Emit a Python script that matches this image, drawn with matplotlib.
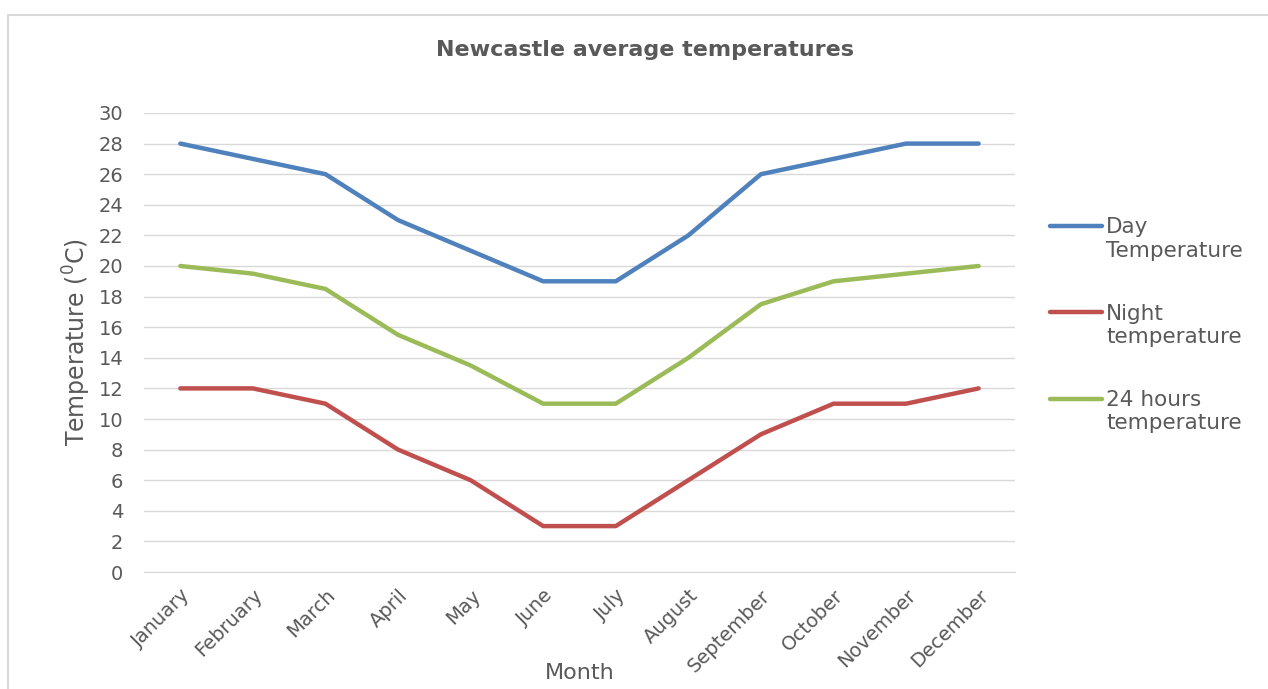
import matplotlib
matplotlib.use('Agg')
import numpy as np
import matplotlib.pyplot as plt
from matplotlib.patches import Rectangle
from matplotlib.legend_handler import HandlerLine2D

plt.rcParams['font.family'] = 'DejaVu Sans'

# data
months = ['January', 'February', 'March', 'April', 'May', 'June', 'July',
          'August', 'September', 'October', 'November', 'December']
day_temp = [28, 27, 26, 23, 21, 19, 19, 22, 26, 27, 28, 28]
night_temp = [12, 12, 11, 8, 6, 3, 3, 6, 9, 11, 11, 12]
avg_temp = [20, 19.5, 18.5, 15.5, 13.5, 11, 11, 14, 17.5, 19, 19.5, 20]
series_names = ['Day\nTemperature', 'Night\ntemperature', '24 hours\ntemperature']
series_colors = ['#4F81BD', '#C0504D', '#9BBB59']

grey = '#595959'


# excel puts the legend line next to the first text line, not the middle
class TopLineHandler(HandlerLine2D):
    def create_artists(self, legend, orig_handle, xdescent, ydescent,
                       width, height, fontsize, trans):
        arts = super().create_artists(legend, orig_handle, xdescent, ydescent,
                                      width, height, fontsize, trans)
        for a in arts:
            a.set_ydata(np.asarray(a.get_ydata()) + fontsize * 0.62)
        return arts


fig = plt.figure(figsize=(12.68, 6.89), dpi=100)
ax = fig.add_axes([0.1136, 0.1698, 0.6868, 0.6662])

# chart border
fig.patches.append(Rectangle((0.0063, -0.1), 1.1, 1.078, transform=fig.transFigure,
                             fill=False, edgecolor='#D9D9D9', linewidth=1.5))

x = range(len(months))
for vals, name, col in zip([day_temp, night_temp, avg_temp], series_names, series_colors):
    ax.plot(x, vals, color=col, linewidth=3.2, label=name, solid_capstyle='round')

ax.set_xlim(-0.5, len(months) - 0.5)
ax.set_ylim(0, 30)
ax.set_yticks(range(0, 31, 2))
ax.set_xticks(list(x))
ax.set_xticklabels(months, rotation=45, ha='right', rotation_mode='anchor')
ax.tick_params(axis='both', length=0, labelsize=14, colors=grey)
ax.tick_params(axis='y', pad=15)
ax.tick_params(axis='x', pad=10)
ax.grid(axis='y', color='#D9D9D9', linewidth=1)
ax.set_axisbelow(True)
for s in ['top', 'right', 'left']:
    ax.spines[s].set_visible(False)
ax.spines['bottom'].set_color('#D9D9D9')

ax.set_ylabel('Temperature ($\\mathregular{^0}$C)', fontsize=17, color=grey, labelpad=4)
ax.set_xlabel('Month', fontsize=16, color=grey, labelpad=-9)
fig.suptitle('Newcastle average temperatures', x=0.509, y=0.927, va='center',
             fontsize=16, fontweight='bold', color=grey)

fig.legend(loc='center left', bbox_to_anchor=(0.813, 0.528), frameon=False,
           fontsize=15.5, labelcolor=grey, handlelength=2.4, handletextpad=0.2,
           labelspacing=2.0, handler_map={plt.Line2D: TopLineHandler()})

fig.savefig('out.png', dpi=100)
